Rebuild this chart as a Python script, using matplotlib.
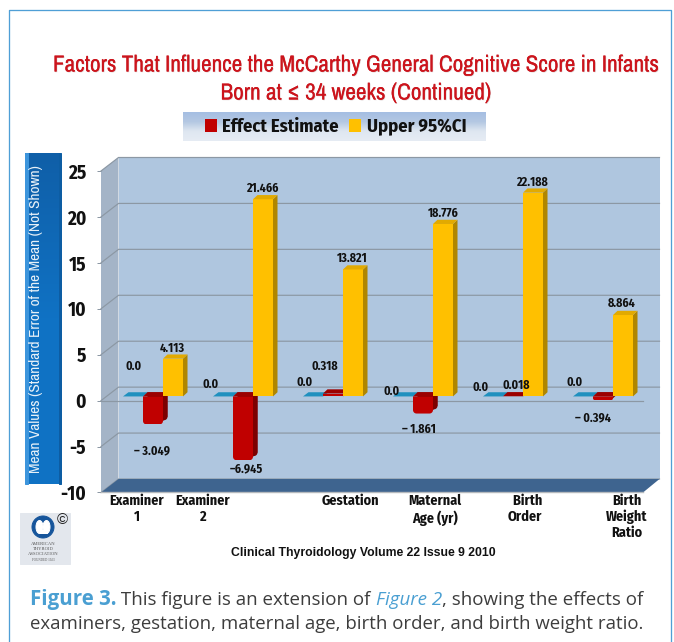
import logging
import numpy as np
import matplotlib
matplotlib.use("Agg")
import matplotlib.pyplot as plt
import matplotlib.patheffects as pe
from matplotlib.patches import Polygon, Rectangle, Ellipse
logging.getLogger("matplotlib.font_manager").setLevel(logging.ERROR)

# ---------- data ----------
categories = ["Examiner\n1", "Examiner\n2", "Gestation", "Maternal\nAge (yr)", "  Birth\nOrder", "Birth\nWeight\nRatio"]
baseline_values = [0.0, 0.0, 0.0, 0.0, 0.0, 0.0]
effect_estimate = [-3.049, -6.945, 0.318, -1.861, 0.018, -0.394]
upper_95_ci = [4.113, 21.466, 13.821, 18.776, 22.188, 8.864]
baseline_labels = ["0.0"] * 6
effect_labels = ["\u2013 3.049", "\u20136.945", "0.318", "\u2013 1.861", "0.018", "\u2013 0.394"]
upper_labels = ["4.113", "21.466", "13.821", "18.776", "22.188", "8.864"]
y_ticks = [-10, -5, 0, 5, 10, 15, 20, 25]
title_lines = ["Factors That Influence the McCarthy General Cognitive Score in Infants",
               "Born at \u2264 34 weeks (Continued)"]
y_label = "Mean Values (Standard Error of the Mean (Not Shown)"
source_text = "Clinical Thyroidology Volume 22 Issue 9 2010"

# ---------- layout (pixels; dpi 72 so 1 pt = 1 px) ----------
W, H = 674, 642
NARROW = ["Archivo Narrow", "Liberation Sans", "DejaVu Sans"]
NARROW_B = ["Fira Sans Condensed", "Liberation Sans", "DejaVu Sans"]
ARIAL = ["Liberation Sans", "DejaVu Sans"]
CAP = ["Open Sans", "DejaVu Sans"]
baseline_off = [(1, 30.5), (-12, 12.5), (-8, 14.5), (-11, 5.5), (-12, 9.5), (-8, 14.5)]
effect_off = [(-1, -26.5), (3, -8.7), (-8, 26.6), (-4, -15.4), (3, 11.3), (-10, -18)]
upper_off = [(-1, 10.7), (-1, 10.4), (-1, 10.6), (0, 11), (-1, 9.8), (-1, 12)]
xlabel_px = [136.5, 203, 350, 435, 525, 627]

fig = plt.figure(figsize=(W / 72, H / 72), dpi=72, facecolor="white")

# decoration layer in pixel coordinates
bg = fig.add_axes([0, 0, 1, 1], zorder=0)
bg.set_xlim(0, W); bg.set_ylim(H, 0); bg.axis("off")


def gradient(ax, x0, x1, y0, y1, colors):
    cm = matplotlib.colors.LinearSegmentedColormap.from_list("g", colors)
    ax.imshow(np.linspace(0, 1, 64)[:, None], extent=(x0, x1, y1, y0), cmap=cm,
              aspect="auto", zorder=2, interpolation="bilinear")


bg.plot([8.5, 8.5, 671, 671], [H, 10, 10, H], color="#4f9fd6", lw=1.3, zorder=1)
gradient(bg, 183, 486, 112, 141, ["#a5bee3", "#b4c8e2", "#dfe7f1", "#e6ecf4"])
gradient(bg, 25, 61, 153, 484, ["#0f5fa8", "#0f72c4", "#0f72c4"])
bg.add_patch(Rectangle((25, 153), 3, 331, color="#3d95dc", zorder=3))
bg.add_patch(Rectangle((59, 153), 2, 331, color="#0d5da3", zorder=3))
bg.set_xlim(0, W); bg.set_ylim(H, 0)

# logo
bg.add_patch(Rectangle((20, 513), 50, 51, color="#e3e7ed", zorder=2))
bg.add_patch(Ellipse((43, 527), 22, 22, color="#16559b", zorder=3))
bg.add_patch(Ellipse((39.5, 527), 7, 13, color="white", zorder=4))
bg.add_patch(Ellipse((46.5, 527), 7, 13, color="white", zorder=4))
bg.add_patch(Rectangle((39, 530), 8, 3, color="white", zorder=4))
bg.text(62, 520.5, "\u00a9", fontsize=15, ha="center", va="center", family=ARIAL, color="#222222", zorder=5)
for yy, t, fs in [(544, "AMERICAN", 4.6), (549, "THYROID", 4.6), (554, "ASSOCIATION", 4.6), (560, "FOUNDED 1923", 3.2)]:
    bg.text(43.5, yy, t, fontsize=fs, ha="center", va="center", family=["Liberation Serif"], color="#555555", zorder=5)

# ---------- chart axes ----------
PX_X = 90.0                # pixels per category
CAT0 = 153.0               # pixel of first category centre
L, R, T, B = 101, 643, 171, 492.5
ax = fig.add_axes([L / W, 1 - B / H, (R - L) / W, (B - T) / H], zorder=1)
ax.set_xlim((L - CAT0) / PX_X, (R - CAT0) / PX_X)
ax.set_ylim(-10, 25)
ax.patch.set_alpha(0)
PX_Y = (B - T) / 35.0
ux, uy = 1 / PX_X, 1 / PX_Y
xa, xb = ax.get_xlim()
ya, yb = ax.get_ylim()
wdx, wdy = 17.5 * ux, 13.5 * uy      # wall depth
wrdx = 16.5 * ux
GRID = "#8c98a4"


def poly(pts, color, z):
    return ax.add_patch(Polygon(pts, closed=True, facecolor=color, edgecolor="none", lw=0, zorder=z, clip_on=False))


poly([(xa + wdx, ya + wdy), (xb + wrdx, ya + wdy), (xb + wrdx, yb + wdy), (xa + wdx, yb + wdy)], "#afc6df", 1)
poly([(xa, ya), (xa + wdx, ya + wdy), (xa + wdx, yb + wdy), (xa, yb)], "#a4b4c7", 1)
poly([(xa, ya), (xb, ya), (xb + wrdx, ya + wdy), (xa + wdx, ya + wdy)], "#3e648f", 2)

for t in y_ticks:
    ax.plot([xa, xa + wdx, xb + wrdx], [t, t + wdy, t + wdy], color=GRID, lw=1.2, zorder=1.5, clip_on=False,
            solid_joinstyle="miter")
ax.plot([xa, xb], [0, 0], color=GRID, lw=1.2, zorder=2, clip_on=False)
ax.plot([xa, xb], [ya, ya], color="#b5b9bd", lw=1.4, zorder=2.5, clip_on=False)

# ---------- bars ----------
bw = 20 * ux
base = 4.2 * uy
bdx, bdy = 4.5 * ux, 4.2 * uy
pos = np.arange(len(categories), dtype=float)


def hanging_shape(xl, xr, ytop, ybot, r_px):
    """Outline of a downward bar with rounded lower corners."""
    th = np.linspace(0, np.pi / 2, 8)
    rx, ry = r_px * ux, r_px * uy
    left = [(xl + rx - rx * np.cos(a), ybot + ry - ry * np.sin(a)) for a in th]
    right = [(xr - rx + rx * np.sin(a), ybot + ry - ry * np.cos(a)) for a in th]
    return [(xl, ytop)] + left + right + [(xr, ytop)]


def bars(xs, vals, front, side, top, z, label=None, skew=0):
    cont = ax.bar(xs, vals, width=bw, bottom=base, color=front, zorder=z + 0.2, label=label)
    for x, v, rect in zip(xs, vals, cont):
        xl, xr = x - bw / 2, x + bw / 2
        y1 = base + v
        if v < 0:
            r = min(3.5, abs(v) * PX_Y / 2)
            clip = Polygon(hanging_shape(xl, xr, base, y1, r), closed=True, transform=ax.transData)
            rect.set_clip_path(clip)
            poly(hanging_shape(xl + bdx, xr + bdx, base + bdy, y1 + bdy, r), side, z)
            poly([(xr, base), (xr + bdx, base + bdy), (xr + bdx, y1 + bdy + r * uy), (xr, y1 + r * uy)], side, z)
        elif v != 0:
            poly([(xr, base), (xr + bdx, base + bdy), (xr + bdx, y1 + bdy), (xr, y1)], side, z)
        ty = max(base, y1)
        s = bdx + skew * ux
        poly([(xl, ty), (xl + s, ty + bdy), (xr + s, ty + bdy), (xr, ty)], top, z + 0.3)
    return cont


bars(pos - 20 * ux, baseline_values, "#1f90bf", "#1f90bf", "#1f90bf", 3, skew=1)
red = bars(pos, effect_estimate, "#c00000", "#7d0000", "#9c0000", 4, label="Effect Estimate")
yel = bars(pos + 20 * ux, upper_95_ci, "#ffc000", "#b08600", "#e2aa00", 5, label="Upper 95%CI")

for xs, vals, labs, offs in [(pos - 20 * ux, baseline_values, baseline_labels, baseline_off),
                             (pos, effect_estimate, effect_labels, effect_off),
                             (pos + 20 * ux, upper_95_ci, upper_labels, upper_off)]:
    for x, v, s, o in zip(xs, vals, labs, offs):
        ax.annotate(s, (x, base + v), xytext=o, textcoords="offset points", ha="center", va="center",
                    fontsize=12, fontweight="bold", family=NARROW_B, color="#111111", zorder=8,
                    annotation_clip=False)

# ---------- axes furniture ----------
for s in ax.spines.values():
    s.set_visible(False)
ax.set_yticks(y_ticks)
ax.set_yticklabels([str(t) for t in y_ticks])
ax.tick_params(axis="y", length=4, width=1, color=GRID, pad=11, labelsize=19)
for lab in ax.get_yticklabels():
    lab.set_fontweight("bold"); lab.set_family(NARROW_B); lab.set_color("#111111")
ax.set_xticks([(p - CAT0) / PX_X for p in xlabel_px], categories)
ax.tick_params(axis="x", length=0, pad=1.5, labelsize=14.2)
for lab in ax.get_xticklabels():
    lab.set_fontweight("bold"); lab.set_family(NARROW_B); lab.set_color("#111111")
    lab.set_linespacing(1.15); lab.set_va("top")
ax.set_ylabel(y_label, fontsize=15.4, family=NARROW, color="#e8f1f8")
ax.yaxis.set_label_coords((43 - L) / (R - L), (B - 319) / (B - T))

# ---------- titles, legend, captions ----------
for i, line in enumerate(title_lines):
    fig.text(355.5 / W, 1 - (65 + 28 * i) / H, line, ha="center", va="center", fontsize=23.2, family=NARROW,
             color="#cc141c", path_effects=[pe.withSimplePatchShadow(offset=(0.7, -0.7), alpha=0.18), pe.Normal()])

leg = fig.legend(handles=[red, yel], loc="center left", bbox_to_anchor=(188 / W, 1 - 127 / H), ncol=2,
                 frameon=False, handlelength=0.65, handleheight=0.65, handletextpad=0.3, columnspacing=0.55,
                 prop={"family": NARROW_B, "weight": "bold", "size": 18.6})
for t in leg.get_texts():
    t.set_color("#111111")
leg.set_zorder(5)

fig.text(363.5 / W, 1 - 553 / H, source_text, ha="center", va="center", fontsize=12.2, fontweight="bold",
         family=ARIAL, color="#111111")

renderer = fig.canvas.get_renderer()
x = 30.0
for s, kw in [("Figure 3.", dict(color="#4a9fd2", fontweight="bold", fontsize=20.5)),
              (" This figure is an extension of ", dict(color="#3d3d3d", fontsize=18.7)),
              ("Figure 2", dict(color="#4a9fd2", style="italic", fontsize=18.7)),
              (", showing the effects of", dict(color="#3d3d3d", fontsize=18.7))]:
    t = fig.text(x / W, 1 - 605 / H, s, ha="left", va="baseline", family=CAP, **kw)
    x = t.get_window_extent(renderer).x1
fig.text(30 / W, 1 - 629 / H, "examiners, gestation, maternal age, birth order, and birth weight ratio.",
         ha="left", va="baseline", fontsize=18.6, family=CAP, color="#3d3d3d")

fig.savefig("out.png", dpi=72, facecolor="white")
